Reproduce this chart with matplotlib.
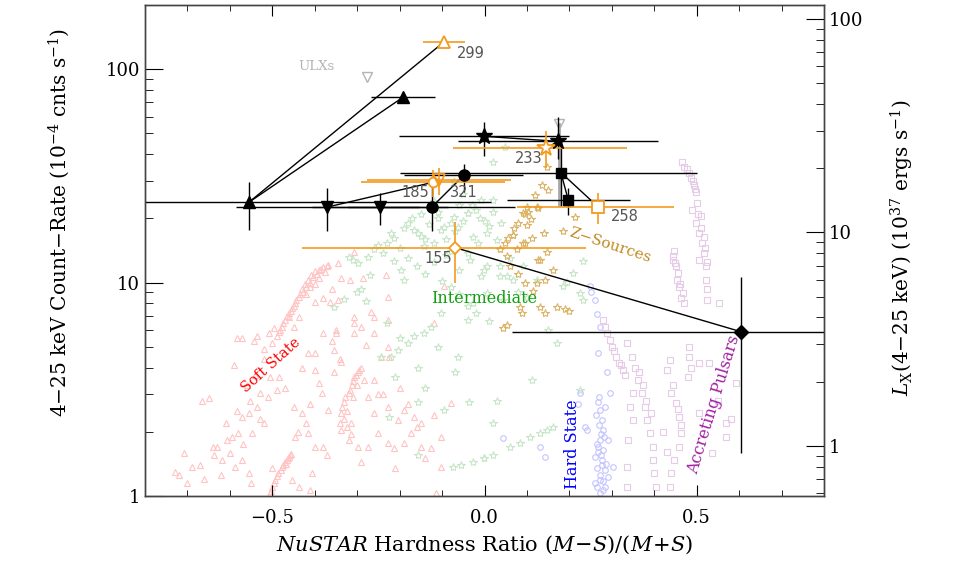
import numpy as np
import matplotlib
matplotlib.use("Agg")
import matplotlib.pyplot as plt
from matplotlib.ticker import FixedLocator, NullFormatter

plt.rcParams["font.family"] = "DejaVu Serif"
plt.rcParams["mathtext.fontset"] = "dejavuserif"
plt.rcParams["xtick.direction"] = "in"
plt.rcParams["ytick.direction"] = "in"

# ---- background populations ----
soft_x = [-0.38, -0.368, -0.39, -0.40, -0.408, -0.415, -0.422, -0.43, -0.438, -0.447, -0.453, -0.46, -0.47,
          -0.478, -0.485, -0.49, -0.50,
          -0.385, -0.395, -0.405, -0.412, -0.42, -0.427, -0.435, -0.443, -0.45, -0.457, -0.465, -0.474,
          -0.482, -0.37, -0.375, -0.39, -0.40, -0.41, -0.42,
          -0.46, -0.465, -0.47, -0.478, -0.486, -0.494, -0.50, -0.505, -0.455,
          -0.458, -0.462, -0.468, -0.474, -0.48, -0.49, -0.497, -0.503,
          -0.337, -0.33, -0.32, -0.313, -0.307, -0.298, -0.29, -0.314, -0.337, -0.32, -0.325, -0.31, -0.30,
          -0.335, -0.328, -0.318, -0.31, -0.303, -0.295, -0.33, -0.325, -0.315, -0.34,
          -0.583, -0.571, -0.544, -0.536, -0.508, -0.496, -0.461, -0.438, -0.45, -0.40, -0.38, -0.337, -0.318,
          -0.36, -0.365, -0.344, -0.307, -0.267, -0.26, -0.227, -0.232, -0.286, -0.307, -0.349, -0.38, -0.40,
          -0.415, -0.354, -0.337, -0.40, -0.485, -0.506, -0.489, -0.53, -0.553, -0.583, -0.571, -0.555, -0.536,
          -0.52, -0.548, -0.58, -0.595, -0.607, -0.63, -0.64, -0.665, -0.649, -0.637, -0.618, -0.60, -0.588,
          -0.555, -0.571, -0.72, -0.707, -0.689, -0.67, -0.447, -0.415, -0.40, -0.38, -0.43, -0.45, -0.384,
          -0.368, -0.274, -0.26, -0.25, -0.274, -0.297, -0.227, -0.213, -0.19, -0.173, -0.15, -0.126, -0.103,
          -0.08, -0.12, -0.166, -0.204, -0.19, -0.227, -0.225, -0.244, -0.227, -0.26, -0.307, -0.29, -0.354,
          -0.283, -0.26, -0.454, -0.438, -0.412, -0.407, -0.115, -0.103, -0.227, -0.12, -0.096, -0.307, -0.344,
          -0.70, -0.73, -0.66, -0.62, -0.52, -0.35, -0.25, -0.16, -0.14,
          -0.52, -0.54, -0.56, -0.51, -0.47, -0.43, -0.42, -0.36, -0.34, -0.28, -0.24, -0.2, -0.18, -0.15,
          -0.44, -0.41, -0.39, -0.37, -0.29, -0.21, -0.59, -0.61, -0.57, -0.55, -0.53, -0.5]
soft_y = [11.8, 12.1, 11.5, 11.3, 10.8, 10.3, 9.8, 9.3, 8.6, 8.0, 7.6, 7.2, 6.7,
          6.2, 5.9, 5.6, 5.2,
          11.6, 11.0, 10.6, 10.0, 9.5, 9.0, 8.8, 8.3, 7.8, 7.4, 7.0, 6.5,
          6.0, 11.9, 11.2, 10.5, 9.9, 9.5, 8.8,
          1.52, 1.47, 1.45, 1.37, 1.28, 1.19, 1.1, 1.03, 1.58,
          1.55, 1.5, 1.42, 1.4, 1.33, 1.24, 1.15, 1.06,
          2.45, 2.75, 3.05, 3.3, 3.6, 3.8, 4.0, 2.2, 2.04, 1.83, 2.5, 2.9, 3.3,
          2.6, 2.9, 3.15, 3.45, 3.7, 3.9, 2.3, 2.1, 1.95, 2.2,
          5.5, 5.5, 5.3, 5.6, 5.8, 6.1, 6.9, 6.9, 6.2, 8.1, 8.5, 10.5, 10.3,
          9.3, 8.1, 8.3, 6.9, 7.3, 6.9, 8.6, 10.9, 10.5, 6.5, 5.8, 5.8, 4.7,
          4.7, 4.85, 4.25, 3.9, 3.6, 3.6, 3.15, 3.05, 2.8, 2.5, 2.35, 2.45, 2.6,
          2.2, 1.98, 1.98, 1.89, 1.83, 1.7, 1.7, 2.8, 2.88, 1.56, 1.48, 1.59, 1.37,
          1.28, 1.48, 1.25, 1.59, 1.37, 1.4, 1.89, 1.98, 1.7, 1.7, 2.45, 2.6, 3.05,
          2.53, 2.9, 2.45, 1.98, 1.7, 1.7, 1.77, 1.68, 1.77, 1.98, 1.7, 1.68, 1.89,
          2.73, 2.4, 2.35, 2.27, 2.53, 2.6, 4.5, 4.5, 5.0, 5.8, 5.8, 6.2, 3.8,
          3.5, 3.5, 1.19, 1.1, 1.07, 1.28, 1.03, 1.37, 6.7, 6.5, 9.6, 13.9, 12.4,
          1.15, 1.3, 1.2, 1.25, 4.9, 6.0, 3.0, 2.1, 1.5,
          4.4, 3.7, 3.3, 2.9, 3.2, 4.0, 2.2, 5.3, 4.4, 5.1, 3.0, 3.2, 2.7, 2.2,
          2.0, 2.7, 3.4, 1.55, 1.45, 1.35, 4.1, 2.2, 1.75, 1.15, 2.3, 1.35]

inter_x = [0.021, 0.049, -0.073, -0.18, -0.166, -0.213, -0.23, -0.26, -0.274, -0.297, -0.32, -0.31, -0.213,
           -0.197, -0.19, -0.143, -0.12, -0.103, -0.063, -0.04, -0.026, -0.009, -0.033, -0.002, -0.103,
           -0.126, -0.143, -0.166, -0.18, -0.204, -0.22, -0.244, -0.157, -0.063, -0.04, -0.026, -0.29, -0.30,
           -0.354, -0.225, -0.157, -0.037, -0.096, -0.075, -0.056, -0.026, -0.002, -0.157,
           0.021, -0.073, -0.04, -0.02, -0.096, -0.157, -0.14, 0.007, -0.016, 0.03, -0.04, 0.037, -0.009,
           0.054, 0.208, 0.232, 0.194, 0.007, 0.044, 0.037, 0.007, 0.037, 0.068, 0.124, 0.185, 0.225, 0.232,
           0.01, 0.112, 0.03, 0.021, 0.225, 0.147, 0.162, 0.131, 0.108, 0.084, 0.061, 0.021, -0.002,
           -0.08, -0.11, -0.06, 0.0, 0.06, 0.09, -0.05, -0.15, -0.12, -0.09,
           -0.25, -0.22, -0.19, -0.17, -0.15, -0.13, -0.11, -0.09, -0.07, -0.05, -0.03, -0.01, 0.01, 0.02,
           0.04, -0.24, -0.20, -0.18, -0.16, -0.14, -0.12, -0.08, -0.06, -0.10, -0.08, -0.06, -0.04, -0.02,
           -0.27, -0.33, -0.28, -0.23, -0.2, -0.11, -0.07, 0.08, 0.1, 0.15, 0.17, -0.14, -0.21]
inter_y = [36.6, 43.4, 29.8, 19.1, 17.7, 16.2, 15.4, 14.3, 13.2, 12.4, 13.2, 12.8, 12.6,
           11.5, 10.3, 14.8, 15.4, 17.7, 18.3, 21.3, 16.4, 24.5, 12.8, 11.5, 7.2,
           6.2, 5.8, 5.6, 5.2, 4.85, 4.5, 4.5, 4.0, 4.5, 6.7, 8.0, 9.3, 9.0,
           7.7, 2.35, 2.76, 2.76, 2.53, 1.37, 1.4, 1.45, 1.5, 1.56,
           24.5, 20.4, 21.3, 22.0, 18.3, 17.1, 16.0, 17.1, 15.4, 15.9, 13.8, 11.9, 10.7,
           10.7, 11.1, 12.6, 10.1, 8.9, 8.3, 14.3, 11.9, 10.7, 10.3, 10.3, 9.6, 8.9, 8.3,
           6.6, 3.5, 2.8, 2.2, 3.15, 2.04, 2.1, 1.98, 1.89, 1.77, 1.7, 1.56, 1.5,
           19.0, 20.0, 23.0, 19.5, 13.0, 12.0, 26.0, 21.0, 24.0, 13.5,
           15.0, 17.0, 18.0, 20.0, 16.5, 18.8, 21.5, 16.0, 17.5, 19.5, 23.0, 20.0, 18.5, 21.5,
           19.0, 13.8, 14.5, 13.0, 12.0, 11.0, 12.5, 14.0, 11.5, 10.2, 9.5, 8.8, 7.8, 7.2,
           10.8, 8.4, 8.2, 6.5, 5.5, 5.0, 3.8, 9.0, 8.6, 6.0, 5.2, 3.2, 3.6]

zsrc_x = [0.147, 0.135, 0.15, 0.12, 0.124, 0.10, 0.096, 0.103, 0.08, 0.10, 0.185, 0.213, 0.068, 0.056,
          0.112, 0.096, 0.077, 0.037, 0.054, 0.147, 0.126, 0.162, 0.143, 0.124, 0.096, 0.115, 0.091, 0.126,
          0.066, 0.049, 0.091, 0.131, 0.131, 0.084, 0.17, 0.19, 0.143, 0.089, 0.054, 0.044, 0.2,
          0.07, 0.11, 0.14, 0.06, 0.08]
zsrc_y = [35.0, 28.7, 27.3, 25.6, 22.7, 22.7, 21.0, 21.5, 19.1, 18.7, 17.5, 20.4, 16.8, 16.2,
          16.2, 15.4, 14.3, 14.3, 13.3, 13.9, 12.8, 11.5, 10.3, 10.0, 10.0, 9.1, 21.3, 22.4,
          16.8, 15.4, 15.4, 12.8, 7.7, 7.7, 7.7, 7.5, 7.2, 7.2, 6.3, 6.1, 7.4,
          18.0, 19.8, 17.0, 12.0, 11.0]

hard_x = [0.248, 0.252, 0.26, 0.264, 0.271, 0.267, 0.288, 0.295, 0.225, 0.22, 0.241, 0.044, 0.131,
          0.143, 0.302, 0.267, 0.271, 0.276, 0.279, 0.271, 0.279, 0.276, 0.283, 0.271, 0.279, 0.26,
          0.26, 0.29, 0.29, 0.265, 0.236, 0.274, 0.268, 0.285, 0.278,
          0.262, 0.27, 0.282, 0.268, 0.275, 0.286, 0.264, 0.272, 0.28, 0.266, 0.273, 0.284, 0.269]
hard_y = [9.6, 9.0, 8.3, 7.1, 6.2, 4.7, 3.8, 3.05, 3.05, 2.7, 2.04, 1.87, 1.7,
          1.52, 1.37, 2.76, 2.53, 2.27, 2.04, 1.83, 1.64, 1.48, 1.32, 1.19, 1.07, 1.52,
          1.15, 1.83, 1.23, 1.75, 2.1, 1.95, 1.6, 1.1, 1.4,
          2.4, 2.15, 1.9, 1.7, 1.56, 1.42, 1.36, 1.26, 1.18, 1.1, 1.03, 2.6, 2.9]

puls_x = [0.447, 0.443, 0.452, 0.454, 0.459, 0.464, 0.471, 0.499, 0.506, 0.513, 0.518, 0.522, 0.522,
          0.525, 0.525, 0.553, 0.501, 0.279, 0.288, 0.30, 0.311, 0.318, 0.326, 0.335, 0.347, 0.354,
          0.361, 0.37, 0.377, 0.384, 0.389, 0.396, 0.396, 0.40, 0.405, 0.349, 0.342, 0.349, 0.337,
          0.335, 0.335, 0.436, 0.431, 0.44, 0.452, 0.459, 0.464, 0.459, 0.447, 0.44, 0.436, 0.482,
          0.482, 0.487, 0.506, 0.529, 0.569, 0.569, 0.593, 0.506, 0.536, 0.506, 0.466, 0.478, 0.487,
          0.494, 0.499, 0.49, 0.51,
          0.445, 0.449, 0.456, 0.461, 0.468, 0.503, 0.509, 0.516, 0.52, 0.524, 0.47, 0.483, 0.492,
          0.497, 0.283, 0.295, 0.306, 0.322, 0.33, 0.365, 0.373, 0.38, 0.392, 0.445, 0.455, 0.462,
          0.43, 0.42, 0.55, 0.58, 0.48]
puls_y = [14.0, 12.8, 11.9, 10.3, 9.5, 8.5, 8.0, 19.1, 17.1, 15.4, 13.8, 11.9, 10.3,
          9.3, 8.3, 8.0, 23.7, 6.7, 5.8, 5.0, 4.5, 4.2, 3.9, 5.2, 4.5, 4.0,
          3.5, 3.05, 2.6, 2.27, 1.98, 1.7, 1.48, 1.28, 1.1, 3.05, 2.6, 2.27, 1.83,
          1.37, 1.1, 4.35, 3.9, 3.05, 2.73, 2.35, 1.98, 1.7, 1.48, 1.28, 1.1, 5.0,
          4.5, 4.0, 4.2, 4.2, 2.2, 1.89, 3.4, 2.45, 1.59, 12.8, 36.6, 34.0, 31.0,
          28.8, 26.7, 22.0, 20.5,
          13.3, 12.3, 11.1, 9.9, 8.9, 21.0, 18.0, 16.3, 14.5, 12.5, 35.0, 32.5, 30.0,
          27.5, 6.2, 5.4, 4.8, 4.1, 3.7, 3.8, 3.3, 2.8, 2.45, 3.3, 2.55, 2.15,
          1.6, 2.0, 2.8, 2.3, 3.6]

# ---- NuSTAR sources (black) ----
tri_up_x = [-0.555, -0.192]
tri_up_y = [23.8, 73.9]
tri_up_xerr = [0.57, 0.075]
tri_up_ylo = [6.1, 2.0]
tri_up_yhi = [5.7, 2.0]

tri_dn_x = [-0.37, -0.246]
tri_dn_y = [22.6, 22.6]
tri_dn_xerr = [0.215, 0.16]
tri_dn_ylo = [5.1, 3.9]
tri_dn_yhi = [5.3, 3.7]

circ_x = [-0.124, -0.049]
circ_y = [22.6, 31.8]
circ_xerr = [0.197, 0.14]
circ_ylo = [5.2, 5.1]
circ_yhi = [6.2, 4.1]

star_x = [-0.002, 0.173]
star_y = [48.5, 45.9]
star_xerr = [0.2, 0.235]
star_ylo = [9.5, 8.1]
star_yhi = [7.9, 13.6]

sq_x = [0.18, 0.197]
sq_y = [32.8, 24.5]
sq_xlo = [0.38, 0.145]
sq_xhi = [0.32, 0.145]
sq_ylo = [10.0, 3.7]
sq_yhi = [12.5, 3.3]

dia_x = [0.604]
dia_y = [5.89]
dia_xerr = [0.54]
dia_ylo = [4.3]
dia_yhi = [4.7]

# ---- comparison points (orange, open) ----
o_tri_x, o_tri_y, o_tri_xerr, o_tri_yerr = [-0.096], [134.0], [0.05], [3.0]
o_circ_x, o_circ_y, o_circ_xerr, o_circ_ylo, o_circ_yhi = [-0.122], [29.5], [0.17], [4.2], [4.3]
o_tdn_x, o_tdn_y, o_tdn_xerr, o_tdn_ylo, o_tdn_yhi = [-0.108], [30.3], [0.17], [4.5], [4.0]
o_star_x, o_star_y, o_star_xlo, o_star_xhi, o_star_ylo, o_star_yhi = [0.145], [42.6], [0.22], [0.19], [8.0], [8.7]
o_sq_x, o_sq_y, o_sq_xlo, o_sq_xhi, o_sq_ylo, o_sq_yhi = [0.267], [22.7], [0.19], [0.18], [3.8], [3.7]
o_dia_x, o_dia_y, o_dia_xlo, o_dia_xhi, o_dia_ylo, o_dia_yhi = [-0.07], [14.6], [0.36], [0.31], [4.6], [4.7]

# ULX markers (grey)
ulx_x = [-0.276, 0.176]
ulx_y = [91.7, 55.2]
ulx_line_lo = 23.0

# source id labels
id_text = ["299", "185", "321", "233", "258", "155"]
id_x = [-0.066, -0.162, -0.049, 0.103, 0.33, -0.11]
id_y = [119.0, 26.5, 26.5, 38.2, 20.4, 13.0]
id_ha = ["left", "center", "center", "center", "center", "center"]

# count rate -> Lx(1e37 erg/s)
lx_per_count = 0.582

orange = "#f39a1f"

fig = plt.figure(figsize=(9.69, 5.65), dpi=100)
ax = fig.add_axes([0.1496, 0.1221, 0.7008, 0.8691])
ax.set_yscale("log")
ax.set_xlim(-0.8, 0.8)
ax.set_ylim(1, 200)

ms_bg = 4
ax.plot(soft_x, soft_y, "^", ms=ms_bg, mfc="none", mec="#ffc4c4", mew=0.8, ls="none", zorder=1)
ax.plot(inter_x, inter_y, "*", ms=ms_bg + 2, mfc="none", mec="#c8e6c8", mew=0.8, ls="none", zorder=1)
ax.plot(zsrc_x, zsrc_y, "*", ms=ms_bg + 2, mfc="none", mec="#dcb468", mew=0.8, ls="none", zorder=1)
ax.plot(hard_x, hard_y, "o", ms=ms_bg, mfc="none", mec="#c4c4ff", mew=0.8, ls="none", zorder=1)
ax.plot(puls_x, puls_y, "s", ms=ms_bg, mfc="none", mec="#e6cce8", mew=0.8, ls="none", zorder=1)

# lines joining observations of the same source
links = [
    ((tri_up_x[0], tri_up_y[0]), (tri_up_x[1], tri_up_y[1])),
    ((tri_up_x[0], tri_up_y[0]), (o_tri_x[0], o_tri_y[0])),
    ((tri_dn_x[0], tri_dn_y[0]), (o_circ_x[0], o_circ_y[0])),
    ((circ_x[0], circ_y[0]), (circ_x[1], circ_y[1])),
    ((star_x[0], star_y[0]), (star_x[1], star_y[1])),
    ((o_star_x[0], o_star_y[0]), (star_x[1], star_y[1])),
    ((sq_x[0], sq_y[0]), (sq_x[1], sq_y[1])),
    ((sq_x[0], sq_y[0]), (o_sq_x[0], o_sq_y[0])),
    ((o_dia_x[0], o_dia_y[0]), (dia_x[0], dia_y[0])),
]
for a, b in links:
    ax.plot([a[0], b[0]], [a[1], b[1]], color="black", lw=1.0, zorder=3)

# grey ULX points
ax.plot([ulx_x[1], ulx_x[1]], [ulx_line_lo, ulx_y[1]], color="#a8a8a8", lw=2.0, zorder=2)
ax.plot(ulx_x, ulx_y, "v", ms=6.5, mfc="none", mec="#b4b4b4", mew=1.0, ls="none", zorder=2)

eb = dict(fmt="none", ecolor="black", elinewidth=1.0, capsize=0, zorder=3)
ax.errorbar(tri_up_x, tri_up_y, xerr=tri_up_xerr, yerr=[tri_up_ylo, tri_up_yhi], **eb)
ax.errorbar(tri_dn_x, tri_dn_y, xerr=tri_dn_xerr, yerr=[tri_dn_ylo, tri_dn_yhi], **eb)
ax.errorbar(circ_x, circ_y, xerr=circ_xerr, yerr=[circ_ylo, circ_yhi], **eb)
ax.errorbar(star_x, star_y, xerr=star_xerr, yerr=[star_ylo, star_yhi], **eb)
ax.errorbar(sq_x, sq_y, xerr=[sq_xlo, sq_xhi], yerr=[sq_ylo, sq_yhi], **eb)
ax.errorbar(dia_x, dia_y, xerr=dia_xerr, yerr=[dia_ylo, dia_yhi], **eb)

eo = dict(fmt="none", ecolor=orange, elinewidth=1.2, capsize=0, zorder=3)
ax.errorbar(o_tri_x, o_tri_y, xerr=o_tri_xerr, yerr=o_tri_yerr, **eo)
ax.errorbar(o_circ_x, o_circ_y, xerr=o_circ_xerr, yerr=[o_circ_ylo, o_circ_yhi], **eo)
ax.errorbar(o_tdn_x, o_tdn_y, xerr=o_tdn_xerr, yerr=[o_tdn_ylo, o_tdn_yhi], **eo)
ax.errorbar(o_star_x, o_star_y, xerr=[o_star_xlo, o_star_xhi], yerr=[o_star_ylo, o_star_yhi], **eo)
ax.errorbar(o_sq_x, o_sq_y, xerr=[o_sq_xlo, o_sq_xhi], yerr=[o_sq_ylo, o_sq_yhi], **eo)
ax.errorbar(o_dia_x, o_dia_y, xerr=[o_dia_xlo, o_dia_xhi], yerr=[o_dia_ylo, o_dia_yhi], **eo)

ax.plot(tri_up_x, tri_up_y, "^", ms=8, color="black", ls="none", zorder=4)
ax.plot(tri_dn_x, tri_dn_y, "v", ms=8, color="black", ls="none", zorder=4)
ax.plot(circ_x, circ_y, "o", ms=8, color="black", ls="none", zorder=4)
ax.plot(star_x, star_y, "*", ms=12, color="black", ls="none", zorder=4)
ax.plot(sq_x, sq_y, "s", ms=7.5, color="black", ls="none", zorder=4)
ax.plot(dia_x, dia_y, "D", ms=7, color="black", ls="none", zorder=4)

oo = dict(mfc="white", mec=orange, mew=1.3, ls="none", zorder=5)
ax.plot(o_tri_x, o_tri_y, "^", ms=9, **oo)
ax.plot(o_circ_x, o_circ_y, "o", ms=7, **oo)
ax.plot(o_tdn_x, o_tdn_y, "v", ms=8, mfc="none", mec=orange, mew=1.3, ls="none", zorder=5)
ax.plot(o_star_x, o_star_y, "*", ms=13, **oo)
ax.plot(o_sq_x, o_sq_y, "s", ms=8, **oo)
ax.plot(o_dia_x, o_dia_y, "D", ms=6, **oo)

for t, x, y, ha in zip(id_text, id_x, id_y, id_ha):
    ax.text(x, y, t, ha=ha, va="center", fontsize=10.5, color="#555555",
            family="DejaVu Sans", zorder=6)

ax.text(-0.396, 103, "ULXs", color="#b4b4b4", fontsize=9.5, ha="center", va="center")
ax.text(0.297, 14.9, "Z\u2212Sources", color="#c08a1e", fontsize=11, ha="center", va="center",
        rotation=-18)
ax.text(0.0, 8.4, "Intermediate", color="#10a010", fontsize=11.5, ha="center", va="center")
ax.text(-0.503, 4.12, "Soft State", color="red", fontsize=10.5, ha="center", va="center", rotation=42)
ax.text(0.208, 1.75, "Hard State", color="blue", fontsize=11.5, ha="center", va="center", rotation=90)
ax.text(0.541, 2.67, "Accreting Pulsars", color="#a020a0", fontsize=11.5, ha="center", va="center",
        rotation=73)

# axes / ticks
ax.set_xticks([-0.5, 0.0, 0.5])
ax.set_xticklabels(["\u22120.5", "0.0", "0.5"])
ax.xaxis.set_minor_locator(FixedLocator(np.arange(-0.7, 0.75, 0.1)))
ax.set_yticks([1, 10, 100])
ax.set_yticklabels(["1", "10", "100"])
ax.tick_params(axis="both", which="major", labelsize=13, top=True, right=False)
ax.tick_params(axis="x", which="major", length=8, pad=9)
ax.tick_params(axis="x", which="minor", length=4, top=True)
ax.tick_params(axis="y", which="major", length=13)
ax.tick_params(axis="y", which="minor", length=6, right=False)
ax.yaxis.set_minor_formatter(NullFormatter())

ax.set_xlabel(r"$NuSTAR$ Hardness Ratio $(M\!-\!S)/(M\!+\!S)$", fontsize=15, labelpad=5)
ax.set_ylabel(r"4$-$25 keV Count$-$Rate (10$^{-4}$ cnts s$^{-1}$)", fontsize=14.5)
ax.yaxis.set_label_coords(-0.107, 0.558)

ax2 = ax.twinx()
ax2.set_yscale("log")
ax2.set_ylim(1 * lx_per_count, 200 * lx_per_count)
ax2.set_yticks([1, 10, 100])
ax2.set_yticklabels(["1", "10", "100"])
ax2.yaxis.set_minor_formatter(NullFormatter())
ax2.tick_params(axis="y", which="major", length=13, labelsize=13, direction="in")
ax2.tick_params(axis="y", which="minor", length=6, direction="in")
ax2.set_ylabel(r"$L_{\rm X}$(4$-$25 keV) (10$^{37}$ ergs s$^{-1}$)", fontsize=14.5)
ax2.yaxis.set_label_coords(1.095, 0.505)

for a in (ax, ax2):
    for s in a.spines.values():
        s.set_linewidth(1.0)
        s.set_color("#444444")

fig.savefig("out.png", dpi=100)
